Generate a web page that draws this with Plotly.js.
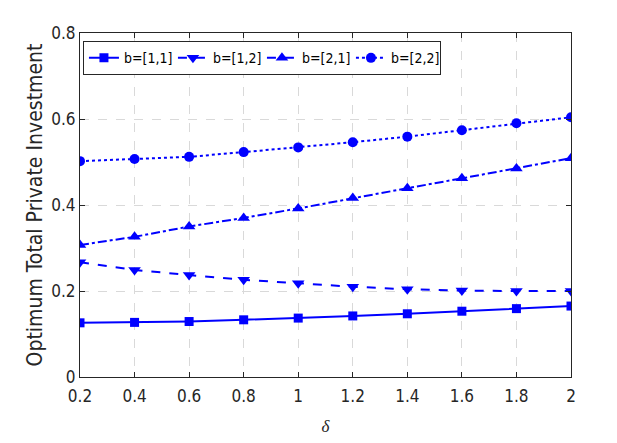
<!DOCTYPE html>
<html>
<head>
<meta charset="utf-8">
<script src="https://cdn.plot.ly/plotly-3.0.1.min.js"></script>
<style>
  html, body { margin: 0; padding: 0; background: white; }
  #chart { width: 617px; height: 443px; }
</style>
</head>
<body>
<div id="chart"></div>
<script>
// delta values on the x axis
const delta = [0.2, 0.4, 0.6, 0.8, 1.0, 1.2, 1.4, 1.6, 1.8, 2.0];

// optimum total private investment per b vector
const b11 = [0.126, 0.127, 0.129, 0.133, 0.137, 0.142, 0.147, 0.153, 0.159, 0.165];
const b12 = [0.267, 0.249, 0.237, 0.226, 0.218, 0.210, 0.204, 0.201, 0.200, 0.200];
const b21 = [0.307, 0.326, 0.350, 0.370, 0.392, 0.416, 0.439, 0.462, 0.485, 0.509];
const b22 = [0.502, 0.507, 0.512, 0.523, 0.534, 0.546, 0.559, 0.574, 0.590, 0.604];

const seriesNames = ['b=[1,1]', 'b=[1,2]', 'b=[2,1]', 'b=[2,2]'];
const xTicks = [0.2, 0.4, 0.6, 0.8, 1, 1.2, 1.4, 1.6, 1.8, 2];
const yTicks = [0, 0.2, 0.4, 0.6, 0.8];

const blue = '#0000ff';
const font = 'DejaVu Sans Condensed, Liberation Sans Narrow, Arial Narrow, sans-serif';

function makeTrace(y, name, dash, symbol, size) {
    return {
        x: delta,
        y: y,
        name: name,
        type: 'scatter',
        mode: 'lines+markers',
        line: { color: blue, width: 2, dash: dash },
        marker: { color: blue, symbol: symbol, size: size }
    };
}

const traces = [
    makeTrace(b11, seriesNames[0], 'solid', 'square', 9),
    makeTrace(b12, seriesNames[1], 'dash', 'triangle-down', 11),
    makeTrace(b21, seriesNames[2], 'dashdot', 'triangle-up', 11),
    makeTrace(b22, seriesNames[3], 'dot', 'circle', 10)
];

const axisCommon = {
    showline: true,
    linecolor: '#262626',
    linewidth: 1,
    mirror: 'ticks',
    ticks: 'inside',
    ticklen: 5,
    tickcolor: '#262626',
    showgrid: true,
    gridcolor: '#d9d9d9',
    griddash: 'dash',
    gridwidth: 1,
    zeroline: false,
    tickfont: { family: font, size: 17, color: '#262626' }
};

const layout = {
    width: 617,
    height: 443,
    margin: { l: 80, r: 46, t: 33, b: 66 },
    paper_bgcolor: 'white',
    plot_bgcolor: 'white',
    showlegend: true,
    legend: {
        orientation: 'h',
        x: 0.006,
        y: 0.976,
        xanchor: 'left',
        yanchor: 'top',
        bgcolor: 'white',
        bordercolor: '#262626',
        borderwidth: 1,
        font: { family: font, size: 14, color: '#000' },
        itemwidth: 30,
        entrywidth: 44,
        entrywidthmode: 'pixels',
        tracegroupgap: 0
    },
    xaxis: Object.assign({}, axisCommon, {
        range: [0.2, 2],
        tickvals: xTicks,
        ticktext: xTicks.map(String),
        ticklabelstandoff: 4,
        title: { text: '<i>δ</i>', font: { family: 'Liberation Serif, serif', size: 17, color: '#262626' }, standoff: 14 }
    }),
    yaxis: Object.assign({}, axisCommon, {
        range: [0, 0.8],
        tickvals: yTicks,
        ticktext: yTicks.map(String),
        title: { text: 'Optimum Total Private Investment', font: { family: font, size: 21, color: '#262626' }, standoff: 2 }
    })
};

Plotly.newPlot('chart', traces, layout, { displayModeBar: false, staticPlot: true });
</script>
</body>
</html>
